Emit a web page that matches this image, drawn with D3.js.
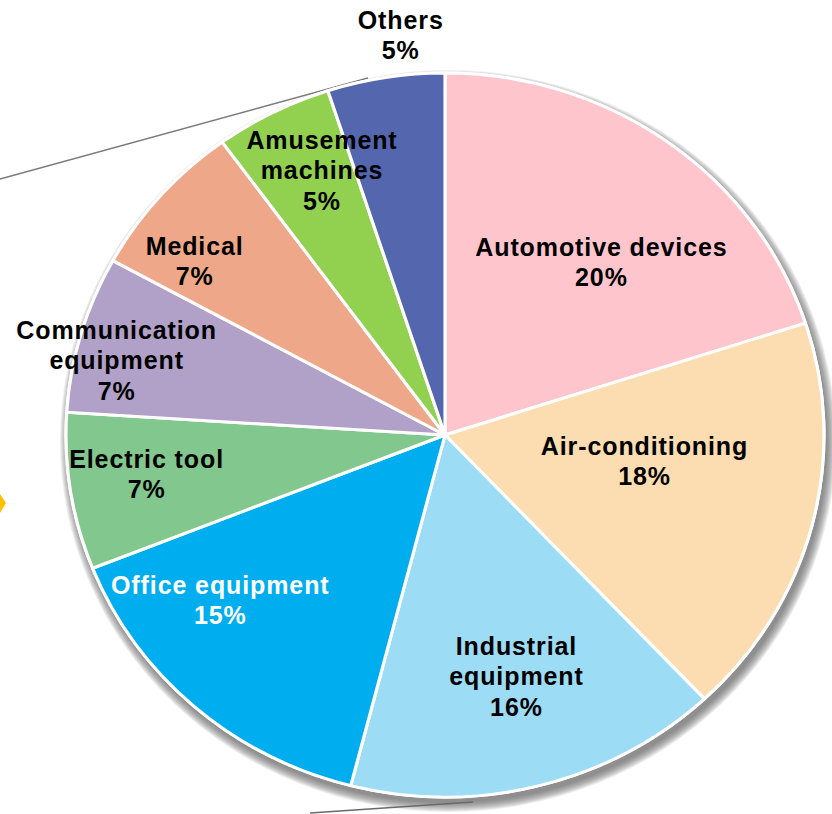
<!DOCTYPE html>
<html>
<head>
<meta charset="utf-8">
<script src="https://cdn.jsdelivr.net/npm/d3@7"></script>
<style>
	html, body { margin: 0; padding: 0; background: #fff; }
	svg { display: block; }
	.label { font-family: 'Liberation Sans', Arial, sans-serif; font-weight: bold; font-size: 25px; letter-spacing: 0.9px; }
</style>
</head>
<body>
<div id="chart"></div>
<script>
// DATA
const categories = ['Automotive devices', 'Air-conditioning', 'Industrial equipment', 'Office equipment',
	'Electric tool', 'Communication equipment', 'Medical', 'Amusement machines', 'Others'];
const shares = [20, 18, 16, 15, 7, 7, 7, 5, 5];
const labelLines = [
	['Automotive devices'], ['Air-conditioning'], ['Industrial', 'equipment'], ['Office equipment'],
	['Electric tool'], ['Communication', 'equipment'], ['Medical'], ['Amusement', 'machines'], ['Others']
];

// LAYOUT
const width = 832, height = 814;
const cx = 445, cy = 435;
const rx = 379, ry = 362;
const colours = ['#FFC5CD', '#FBDDB1', '#9DDCF5', '#00AEEF', '#82C78E', '#B1A0C7', '#EFA78A', '#92D050', '#5366AE'];
const textColours = ['#000', '#000', '#000', '#fff', '#000', '#000', '#000', '#000', '#000'];
// label anchor: [angle in degrees clockwise from top, radius fraction]
const labelPolar = [[40.7, 0.631], [97.8, 0.53], [164.3, 0.692], [232.5, 0.749], [262.2, 0.796],
	[283.4, 0.892], [306, 0.818], [336, 0.801], [353.9, 1.111]];
const lineHeight = 30.5;

const svg = d3.select('#chart')
	.append('svg')
	.attr('width', width)
	.attr('height', height);

// decorative connector lines
svg.append('line')
	.attr('x1', 0).attr('y1', 179).attr('x2', 368).attr('y2', 78)
	.attr('stroke', '#7a7a7a').attr('stroke-width', 1.3);

// yellow arrow tip at left edge
svg.append('path')
	.attr('d', 'M0,494 L6,503 L0,513 Z')
	.attr('fill', '#FFC000');

// soft shadow behind the pie, built from stacked translucent ellipses
svg.append('g')
	.selectAll('ellipse')
	.data(d3.range(9, -1, -1))
	.join('ellipse')
	.attr('cx', cx + 3).attr('cy', cy + 6)
	.attr('rx', k => rx + k).attr('ry', k => ry + k)
	.attr('fill', '#5a5a5a')
	.attr('fill-opacity', 0.1);

svg.append('line')
	.attr('x1', 310).attr('y1', 813).attr('x2', 473).attr('y2', 802)
	.attr('stroke', '#6a6a6a').attr('stroke-width', 1.3);

const pie = d3.pie().sort(null).value(d => d);
const arcs = pie(shares);
const arc = d3.arc().innerRadius(0).outerRadius(ry);

const g = svg.append('g')
	.attr('transform', `translate(${cx},${cy}) scale(${rx / ry},1)`);

g.append('ellipse')
	.attr('rx', ry + 1.5).attr('ry', ry + 1.5)
	.attr('fill', '#fff');

g.selectAll('path.slice')
	.data(arcs)
	.join('path')
	.attr('class', 'slice')
	.attr('d', arc)
	.attr('fill', (d, i) => colours[i])
	.attr('stroke', '#fff')
	.attr('stroke-width', 3)
	.attr('stroke-linejoin', 'round');

// labels
const labels = svg.append('g');
arcs.forEach((d, i) => {
	const [deg, r] = labelPolar[i];
	const a = deg * Math.PI / 180;
	const x = cx + r * rx * Math.sin(a);
	const y = cy - r * ry * Math.cos(a);
	const lines = labelLines[i].concat([`${d.data}%`]);
	const t = labels.append('text')
		.attr('class', 'label')
		.attr('text-anchor', 'middle')
		.attr('fill', textColours[i]);
	lines.forEach((ln, j) => {
		t.append('tspan')
			.attr('x', x + 0.5)
			.attr('y', y + (j - (lines.length - 1) / 2) * lineHeight)
			.attr('dominant-baseline', 'central')
			.text(ln);
	});
});
</script>
</body>
</html>
